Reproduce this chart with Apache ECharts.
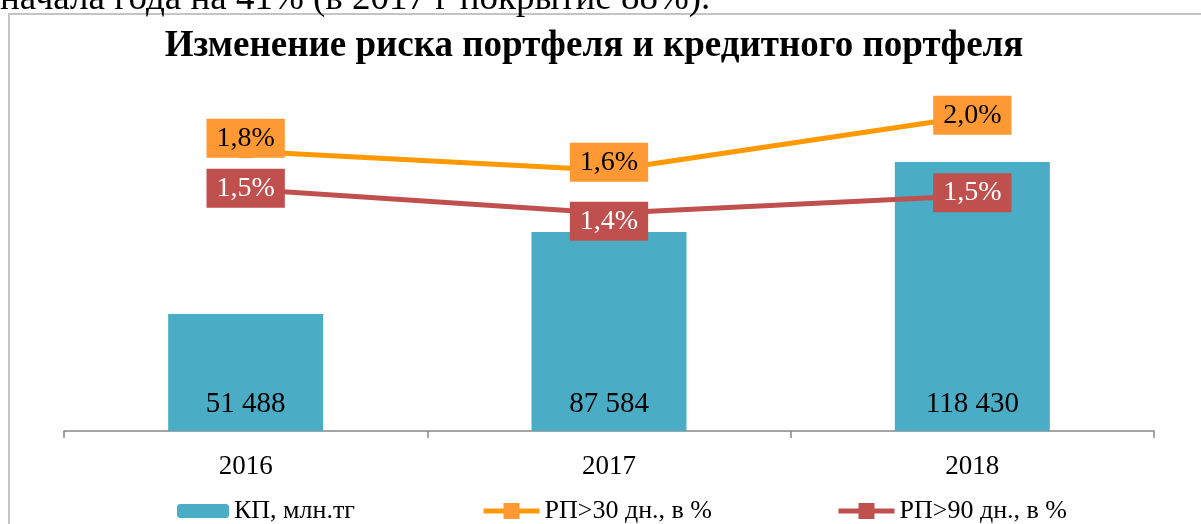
<!DOCTYPE html>
<html>
<head>
<meta charset="utf-8">
<script src="https://cdn.jsdelivr.net/npm/echarts@6/dist/echarts.min.js"></script>
<style>
html,body{margin:0;padding:0;background:#fff;}
#chart{width:1201px;height:524px;}
</style>
</head>
<body>
<div id="chart"></div>
<script>
const categories = ['2016', '2017', '2018'];
const kpValues = [51488, 87584, 118430];
const rp30Values = [1.76, 1.64, 1.98];
const rp90Values = [1.52, 1.37, 1.48];
const seriesNames = ['КП, млн.тг', 'РП>30 дн., в %', 'РП>90 дн., в %'];
const titleText = 'Изменение риска портфеля и кредитного портфеля';
const topText = 'начала года на 41% (в 2017 г покрытие 88%).';

const FONT = '"Liberation Serif", "Times New Roman", serif';
const rp30LabelShift = [-13, -8, -1];
const rp90LabelShift = [-1, 8, -3];

function fmtThousands(v) {
  return String(v).replace(/\B(?=(\d{3})+(?!\d))/g, ' ');
}
function fmtPct(v) {
  return v.toFixed(1).replace('.', ',') + '%';
}
function withShift(vals, shifts) {
  return vals.map((v, i) => ({ value: v, label: { offset: [0, shifts[i]] } }));
}

const chart = echarts.init(document.getElementById('chart'), null, { renderer: 'canvas' });

const legendCommon = {
  top: 493,
  itemGap: 0,
  textStyle: { fontFamily: FONT, fontSize: 26, color: '#000' },
  selectedMode: false
};

chart.setOption({
  animation: false,
  backgroundColor: '#fff',
  graphic: [
    {
      type: 'rect',
      shape: { x: 9, y: 14, width: 1300, height: 700 },
      style: { fill: 'none', stroke: '#C4C4C4', lineWidth: 2 },
      z: 0
    },
    {
      type: 'text',
      x: 0, y: -1,
      style: { text: topText, font: '37px ' + FONT, fill: '#000', textAlign: 'left', textVerticalAlign: 'middle' },
      z: 10
    },
    {
      type: 'text',
      x: 594, y: 46,
      style: { text: titleText, font: 'bold 37px ' + FONT, fill: '#000', textAlign: 'center', textVerticalAlign: 'middle' },
      z: 10
    }
  ],
  legend: [
    Object.assign({}, legendCommon, { left: 172, data: [seriesNames[0]], itemWidth: 52, itemHeight: 14 }),
    Object.assign({}, legendCommon, { left: 476, data: [seriesNames[1]], itemWidth: 56, itemHeight: 20, lineStyle: { width: 5 } }),
    Object.assign({}, legendCommon, { left: 831, data: [seriesNames[2]], itemWidth: 56, itemHeight: 20, lineStyle: { width: 5 } })
  ],
  grid: { left: 64, right: 47, top: 113, bottom: 93, containLabel: false },
  xAxis: {
    type: 'category',
    data: categories,
    boundaryGap: true,
    axisLine: { lineStyle: { color: '#868686', width: 1.5 } },
    axisTick: { show: true, length: 7, lineStyle: { color: '#868686', width: 1.5 } },
    axisLabel: { fontFamily: FONT, fontSize: 27, color: '#000', margin: 22 }
  },
  yAxis: [
    { type: 'value', min: 0, max: 140000, show: false, splitLine: { show: false } },
    { type: 'value', min: 0, max: 2, show: false, splitLine: { show: false } }
  ],
  series: [
    {
      name: seriesNames[0],
      type: 'bar',
      data: kpValues,
      barWidth: 155,
      itemStyle: { color: '#4BACC6' },
      label: {
        show: true,
        position: 'insideBottom',
        distance: 12,
        fontFamily: FONT,
        fontSize: 29,
        color: '#000',
        formatter: p => fmtThousands(p.value)
      },
      z: 1
    },
    {
      name: seriesNames[1],
      type: 'line',
      yAxisIndex: 1,
      data: withShift(rp30Values, rp30LabelShift),
      symbol: 'rect',
      symbolSize: 14,
      lineStyle: { color: '#FF9900', width: 5 },
      itemStyle: { color: '#FF9933' },
      label: {
        show: true,
        position: 'inside',
        fontFamily: FONT,
        fontSize: 28,
        color: '#000',
        backgroundColor: '#FF9933',
        padding: [6, 10, 5, 10],
        formatter: p => fmtPct(p.value)
      },
      z: 3
    },
    {
      name: seriesNames[2],
      type: 'line',
      yAxisIndex: 1,
      data: withShift(rp90Values, rp90LabelShift),
      symbol: 'rect',
      symbolSize: 14,
      lineStyle: { color: '#C0504D', width: 5 },
      itemStyle: { color: '#C0504D' },
      label: {
        show: true,
        position: 'inside',
        fontFamily: FONT,
        fontSize: 28,
        color: '#fff',
        backgroundColor: '#C0504D',
        padding: [6, 10, 5, 10],
        formatter: p => fmtPct(p.value)
      },
      z: 3
    }
  ]
});
</script>
</body>
</html>
